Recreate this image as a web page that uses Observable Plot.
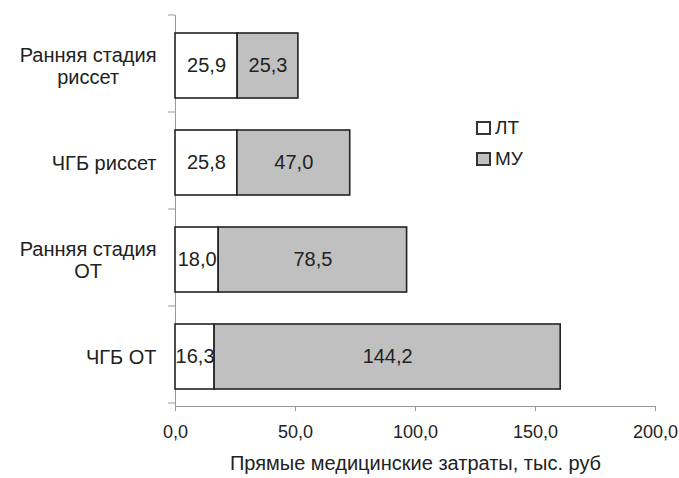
<!DOCTYPE html>
<html><head><meta charset="utf-8">
<script src="https://cdn.jsdelivr.net/npm/d3@7"></script>
<script src="https://cdn.jsdelivr.net/npm/@observablehq/plot@0.6"></script>
<style>
body{margin:0;background:#fff;font-family:"Liberation Sans",Arial,sans-serif;}
#wrap{position:relative;width:679px;height:478px;}
.leg{position:absolute;display:flex;align-items:center;font-size:19px;color:#222;}
.sw{width:11px;height:10px;border:2px solid #333;margin-right:4px;}
</style>
</head><body><div id="wrap"></div>
<script>
const categories = ["Ранняя стадия\nриссет", "ЧГБ риссет", "Ранняя стадия\nОТ", "ЧГБ ОТ"];
const series = ["ЛТ", "МУ"];
const valuesLT = [25.9, 25.8, 18.0, 16.3];
const valuesMU = [25.3, 47.0, 78.5, 144.2];
const xTicks = [0, 50, 100, 150, 200];
const colors = ["#ffffff", "#c0c0c0"];
const xLabel = "Прямые медицинские затраты, тыс. руб";

const data = [];
categories.forEach((c, i) => {
  data.push({cat: c, series: "ЛТ", value: valuesLT[i]});
  data.push({cat: c, series: "МУ", value: valuesMU[i]});
});
const fmt = d => d.toFixed(1).replace(".", ",");
const FONT = '"Liberation Sans", Arial, sans-serif';

// measure label widths to center multi-line labels
const ctx = document.createElement("canvas").getContext("2d");
ctx.font = "20px " + FONT;
const labelWidth = c => Math.max(...c.split("\n").map(s => ctx.measureText(s).width));

const yLabelMarks = categories.map(c =>
  Plot.text([c], {y: d => d, text: d => d, frameAnchor: "left", textAnchor: "middle",
    dx: -19 - labelWidth(c) / 2, fontSize: 20, lineHeight: 1.1, fill: "#222"})
);

const plot = Plot.plot({
  width: 679, height: 478,
  marginLeft: 175, marginRight: 24, marginTop: 15, marginBottom: 72,
  style: {fontFamily: FONT, fontSize: "18px", color: "#222", background: "#fff", overflow: "visible"},
  x: {domain: [0, 200]},
  y: {domain: categories, paddingInner: 0.335, paddingOuter: 0.1675, label: null, axis: null},
  color: {domain: series, range: colors},
  marks: [
    Plot.ruleX([0], {stroke: "#999"}),
    Plot.axisX({ticks: xTicks, tickFormat: fmt, tickSize: 5, tickPadding: 14, label: null, stroke: "#999", fill: "#222", fontSize: 18}),
    Plot.axisX({ticks: [], label: xLabel, labelAnchor: "center", labelOffset: 63, labelArrow: "none", fontSize: 20, tickSize: 0}),
    ...yLabelMarks,
    Plot.barX(data, Plot.stackX({x: "value", y: "cat", fill: "series", stroke: "#222", strokeWidth: 1.6})),
    Plot.text(data, Plot.stackX({x: "value", y: "cat", z: "series", text: d => fmt(d.value), fontSize: 20, fill: "#222"}))
  ]
});
document.getElementById("wrap").appendChild(plot);

// x-axis line and y-axis tick marks at category boundaries
const xs = plot.scale("x");
const ys = plot.scale("y");
const x0 = xs.apply(0), x1 = xs.apply(200);
const g = d3.select(plot).append("g").attr("stroke", "#999");
g.append("line").attr("x1", x0).attr("x2", x1).attr("y1", ys.range[1] + 0.5).attr("y2", ys.range[1] + 0.5);
for (let k = 0; k <= categories.length; k++) {
  const yy = ys.range[0] + k * ys.step;
  g.append("line").attr("x1", x0 - 7).attr("x2", x0).attr("y1", yy).attr("y2", yy);
}

// legend
const wrap = document.getElementById("wrap");
series.forEach((s, i) => {
  const d = document.createElement("div");
  d.className = "leg";
  d.style.left = "476px";
  d.style.top = (117 + i * 31) + "px";
  d.innerHTML = `<div class="sw" style="background:${colors[i]}"></div><span>${s}</span>`;
  wrap.appendChild(d);
});
</script></body></html>
